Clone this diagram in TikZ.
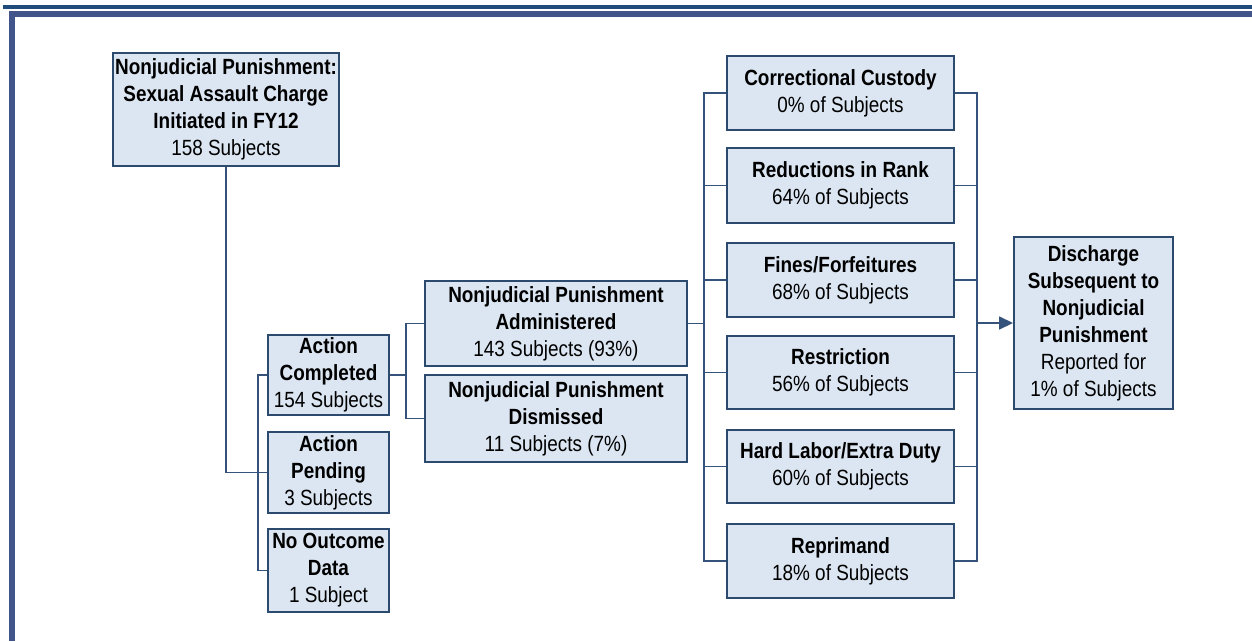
\documentclass[tikz,border=0pt]{standalone}
\usepackage{fontspec}
\setmainfont{Liberation Sans}[FakeStretch=0.86]
\usetikzlibrary{arrows.meta}
\definecolor{boxfill}{HTML}{DCE6F2}
\definecolor{boxline}{HTML}{2C4A6E}
\definecolor{conline}{HTML}{34527A}
\definecolor{frameA}{HTML}{1F4B7D}
\definecolor{frameB}{HTML}{42558A}
\tikzset{
  box/.style={draw=boxline, line width=1.9pt, fill=boxfill, inner sep=0pt, align=center,
    font=\fontsize{22}{27}\selectfont},
  con/.style={draw=conline, line width=1.6pt},
}
\newcommand{\hd}[1]{\textbf{#1}}
\begin{document}
\begin{tikzpicture}[x=1pt,y=-1pt]
\useasboundingbox (0,0) rectangle (1252,641);
% frame
\fill[frameA] (3,5) rectangle (1252,8.5);
\fill[frameB] (9,11) rectangle (1252,16.5);
\fill[frameB] (9,11) rectangle (15,641);
% nodes
\node[box, minimum width=226, minimum height=113] (top) at (226,109.5)
  {\hd{Nonjudicial Punishment:}\\\hd{Sexual Assault Charge}\\\hd{Initiated in FY12}\\158 Subjects};
\node[box, minimum width=121, minimum height=80] (ac) at (328.5,375)
  {\hd{Action}\\\hd{Completed}\\154 Subjects};
\node[box, minimum width=121, minimum height=81] (ap) at (328.5,472.5)
  {\hd{Action}\\\hd{Pending}\\3 Subjects};
\node[box, minimum width=121, minimum height=83] (nod) at (328.5,570.5)
  {\hd{No Outcome}\\\hd{Data}\\1 Subject};
\node[box, minimum width=262, minimum height=85] (nja) at (556,323.5)
  {\hd{Nonjudicial Punishment}\\\hd{Administered}\\143 Subjects (93\%)};
\node[box, minimum width=262, minimum height=87] (njd) at (556,418.5)
  {\hd{Nonjudicial Punishment}\\\hd{Dismissed}\\11 Subjects (7\%)};
\node[box, minimum width=227, minimum height=74] (cc) at (840.5,93)
  {\hd{Correctional Custody}\\0\% of Subjects};
\node[box, minimum width=227, minimum height=75] (rr) at (840.5,185.5)
  {\hd{Reductions in Rank}\\64\% of Subjects};
\node[box, minimum width=227, minimum height=74] (ff) at (840.5,280)
  {\hd{Fines/Forfeitures}\\68\% of Subjects};
\node[box, minimum width=227, minimum height=73] (rs) at (840.5,372.5)
  {\hd{Restriction}\\56\% of Subjects};
\node[box, minimum width=227, minimum height=73] (hl) at (840.5,466.5)
  {\hd{Hard Labor/Extra Duty}\\60\% of Subjects};
\node[box, minimum width=227, minimum height=74] (rp) at (840.5,561)
  {\hd{Reprimand}\\18\% of Subjects};
\node[box, minimum width=159, minimum height=172] (dc) at (1093.5,323)
  {\hd{Discharge}\\\hd{Subsequent to}\\\hd{Nonjudicial}\\\hd{Punishment}\\Reported for\\1\% of Subjects};
% connectors
\draw[con] (top.south) |- (ap.west);
\coordinate (b0) at ([xshift=-9pt]ac.west);
\draw[con] (ac.west) -- (b0) -- (nod.west -| b0) -- (nod.west);
\coordinate (b1) at ([xshift=16pt]ac.east);
\draw[con] (ac.east) -- (b1);
\draw[con] (nja.west) -- (nja.west -| b1) -- (njd.west -| b1) -- (njd.west);
\coordinate (lb) at ([xshift=-22pt]cc.west);
\draw[con] (nja.east) -- (nja.east -| lb);
\draw[con] (cc.west) -- (lb) -- (rp.west -| lb) -- (rp.west);
\foreach \n in {rr,ff,rs,hl} \draw[con] (\n.west) -- (\n.west -| lb);
\coordinate (rb) at ([xshift=22pt]cc.east);
\draw[con] (cc.east) -- (rb) -- (rp.east -| rb) -- (rp.east);
\foreach \n in {rr,ff,rs,hl} \draw[con] (\n.east) -- (\n.east -| rb);
\draw[con, -{Triangle[length=14pt,width=13pt]}] (dc.west -| rb) -- (dc.west);
\end{tikzpicture}
\end{document}
